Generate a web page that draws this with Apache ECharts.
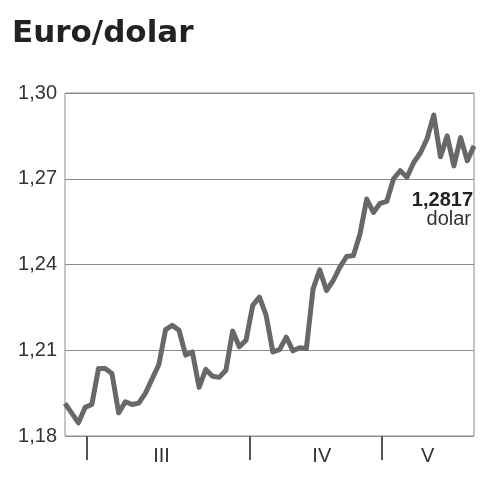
<!DOCTYPE html>
<html>
<head>
<meta charset="utf-8">
<script src="https://cdn.jsdelivr.net/npm/echarts@6/dist/echarts.min.js"></script>
<style>
  html, body { margin: 0; padding: 0; background: #fff; }
  #main { width: 480px; height: 480px; }
</style>
</head>
<body>
<div id="main"></div>
<script>
// daily EUR/USD rate
var rates = [
  1.1914, 1.1880, 1.1846, 1.1900, 1.1910, 1.2036, 1.2036, 1.2019, 1.1881, 1.1920,
  1.1910, 1.1915, 1.1950, 1.2000, 1.2050, 1.2172, 1.2187, 1.2170, 1.2083, 1.2094,
  1.1970, 1.2033, 1.2009, 1.2005, 1.2030, 1.2167, 1.2112, 1.2135, 1.2257, 1.2286,
  1.2222, 1.2094, 1.2102, 1.2146, 1.2098, 1.2109, 1.2106, 1.2315, 1.2381, 1.2309,
  1.2344, 1.2391, 1.2428, 1.2431, 1.2507, 1.2629, 1.2582, 1.2614, 1.2621, 1.2700,
  1.2728, 1.2705, 1.2757, 1.2790, 1.2840, 1.2923, 1.2777, 1.2850, 1.2745, 1.2844,
  1.2763, 1.2815
];
var days = rates.map(function (v, i) { return i; });

var yTicks = [1.18, 1.21, 1.24, 1.27, 1.30];

// month boundaries and month names (position in trading days)
var monthStarts = [3.24, 27.6, 47.2];
var monthNames = ['III', 'IV', 'V'];
var monthMids = [14.4, 38.3, 54.1];

var lastValue = '1,2817';
var lastUnit = 'dolar';

var chart = echarts.init(document.getElementById('main'));

var option = {
  backgroundColor: '#fff',
  animation: false,
  title: {
    text: 'Euro/dolar',
    left: 7,
    top: 13,
    textStyle: {
      fontFamily: 'DejaVu Sans',
      fontWeight: 'bold',
      fontSize: 31,
      color: '#222'
    }
  },
  grid: {
    left: 65,
    right: 6,
    top: 93,
    bottom: 44,
    show: true,
    borderColor: '#8c8c8c',
    borderWidth: 1
  },
  xAxis: [
    {
      type: 'category',
      data: days,
      boundaryGap: false,
      axisLine: { show: false },
      axisTick: { show: false },
      axisLabel: { show: false },
      splitLine: { show: false }
    },
    {
      type: 'value',
      min: 0,
      max: rates.length - 1,
      position: 'bottom',
      axisLine: { show: false },
      splitLine: { show: false },
      axisTick: {
        show: true,
        customValues: monthStarts,
        length: 24,
        lineStyle: { color: '#555', width: 2 }
      },
      axisLabel: {
        customValues: monthMids,
        margin: 10,
        fontFamily: 'Liberation Sans',
        fontSize: 20,
        color: '#333',
        formatter: function (v) {
          var i = monthMids.indexOf(v);
          return i >= 0 ? monthNames[i] : '';
        }
      }
    }
  ],
  yAxis: {
    type: 'value',
    min: 1.18,
    max: 1.30,
    axisLine: { show: false },
    axisTick: { show: false, customValues: yTicks },
    axisLabel: {
      customValues: yTicks,
      margin: 8,
      fontFamily: 'Liberation Sans',
      fontSize: 20,
      color: '#333',
      formatter: function (v) { return v.toFixed(2).replace('.', ','); }
    },
    splitLine: { show: true, lineStyle: { color: '#8c8c8c', width: 1 } }
  },
  graphic: [
    {
      type: 'text',
      right: 7,
      top: 190,
      style: {
        text: lastValue,
        fontFamily: 'Liberation Sans',
        fontWeight: 'bold',
        fontSize: 20,
        fill: '#222'
      }
    },
    {
      type: 'text',
      right: 9,
      top: 209,
      style: {
        text: lastUnit,
        fontFamily: 'Liberation Sans',
        fontSize: 20,
        fill: '#333'
      }
    }
  ],
  series: [
    {
      type: 'line',
      xAxisIndex: 0,
      data: rates,
      showSymbol: false,
      lineStyle: { color: '#686868', width: 5, join: 'round' }
    }
  ]
};

chart.setOption(option);
</script>
</body>
</html>
